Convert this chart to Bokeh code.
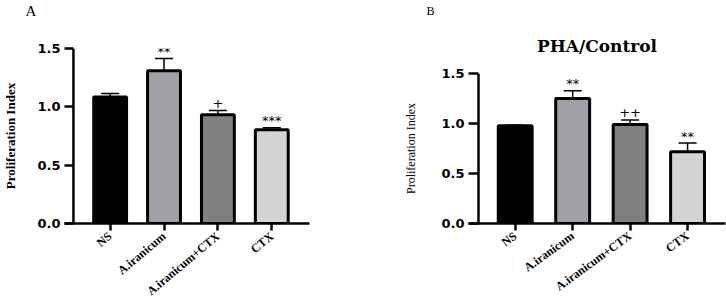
import math
from bokeh.plotting import figure
from bokeh.models import (ColumnDataSource, Range1d, FixedTicker, Span, Whisker,
                          TeeHead, Title, NumeralTickFormatter)
from bokeh.layouts import row, column
from bokeh.embed import file_html
from bokeh.resources import INLINE
from bokeh.core.properties import value

# ---------------- data ----------------
categories = ["NS", "A.iranicum", "A.iranicum+CTX", "CTX"]
bar_colors = ["#000000", "#a0a0a6", "#808080", "#d3d3d3"]

a_values = [1.085, 1.31, 0.932, 0.804]
a_errors = [0.03, 0.105, 0.037, 0.017]
a_marks = ["", "**", "+", "***"]

b_values = [0.977, 1.25, 0.99, 0.717]
b_errors = [0.006, 0.077, 0.046, 0.087]
b_marks = ["", "**", "++", "**"]

y_ticks = [0.0, 0.5, 1.0, 1.5]


def make_panel(values, errors, marks, ylabel_bold, x_start, x_end,
               yaxis_at, bar_width, borders, label_angle, label_size,
               ylabel_size, ylabel_standoff, tick_len):
    left, right, top, bottom = borders
    p = figure(width=363, height=306, output_backend="svg",
               toolbar_location=None,
               x_range=Range1d(x_start, x_end), y_range=Range1d(0, 1.5),
               min_border_left=left, min_border_right=right,
               min_border_top=top, min_border_bottom=bottom)
    p.title = None
    p.outline_line_color = None
    p.grid.visible = False
    p.background_fill_color = "white"
    p.border_fill_color = "white"

    xs = list(range(len(categories)))
    tops = [v + e for v, e in zip(values, errors)]
    src = ColumnDataSource(dict(x=xs, top=values, color=bar_colors,
                                upper=tops, mark=marks))

    # error bars (upper only)
    w = Whisker(source=src, base="x", lower="top", upper="upper",
                line_width=1.5, line_color="black",
                upper_head=TeeHead(size=18, line_width=1.5, line_color="black"),
                lower_head=None, level="underlay")
    p.add_layout(w)

    p.vbar(x="x", top="top", width=bar_width, source=src, fill_color="color",
           line_color="black", line_width=3)

    p.text(x="x", y="upper", text="mark", source=src, text_align="center",
           text_baseline="middle", y_offset=-7,
           text_font=value("DejaVu Sans"), text_font_size="13px",
           text_color="black")

    # y axis: ticks drawn inward from frame edge, axis line as a span
    ya = p.yaxis[0]
    ya.ticker = FixedTicker(ticks=y_ticks)
    ya.formatter = NumeralTickFormatter(format="0.0")
    ya.axis_line_color = None
    ya.major_tick_in = tick_len
    ya.major_tick_out = 0
    ya.major_tick_line_width = 2.5
    ya.minor_tick_line_color = None
    ya.major_label_standoff = 4
    ya.major_label_text_font = "DejaVu Sans"
    ya.major_label_text_font_style = "bold"
    ya.major_label_text_font_size = "13px"
    ya.major_label_text_color = "black"
    ya.axis_label = "Proliferation Index"
    ya.axis_label_text_font = "Liberation Serif"
    ya.axis_label_text_font_style = "bold" if ylabel_bold else "normal"
    ya.axis_label_text_font_size = ylabel_size
    ya.axis_label_text_color = "black"
    ya.axis_label_standoff = ylabel_standoff
    p.add_layout(Span(location=yaxis_at, dimension="height",
                      line_color="black", line_width=2.5))

    xa = p.xaxis[0]
    xa.ticker = FixedTicker(ticks=xs)
    xa.major_label_overrides = {i: c for i, c in enumerate(categories)}
    xa.axis_line_width = 2.5
    xa.axis_line_color = "black"
    xa.major_tick_in = 0
    xa.major_tick_out = 7
    xa.major_tick_line_width = 2.5
    xa.minor_tick_line_color = None
    xa.major_label_orientation = label_angle
    xa.major_label_standoff = 4
    xa.major_label_text_font = "Liberation Serif"
    xa.major_label_text_font_style = "bold"
    xa.major_label_text_font_size = label_size
    xa.major_label_text_color = "black"
    return p


pa = make_panel(a_values, a_errors, a_marks, True,
                -0.847, 3.70, -0.681, 0.61, (62, 54, 48, 82),
                math.radians(40), "12px", "13px", 16, 9)
# spacer between frame and panel letter
pa.add_layout(Title(text=" ", standoff=27, text_font_size="1px"), "above")
pa.add_layout(Title(text="A", align="left", offset=-39, standoff=0,
                    text_font="Liberation Serif", text_font_style="normal",
                    text_font_size="15px", text_color="black"), "above")

pb = make_panel(b_values, b_errors, b_marks, False,
                -0.813, 3.66, -0.639, 0.59, (105, 1, 73, 83),
                math.radians(36), "12px", "12px", 20, 10)
pb.add_layout(Title(text="PHA/Control", align="center", standoff=34,
                    vertical_align="middle",
                    text_font="DejaVu Serif", text_font_style="bold",
                    text_font_size="17px", text_color="black"), "above")
pb.add_layout(Title(text="B", align="left", offset=-42, standoff=0,
                    text_font="Liberation Serif", text_font_style="normal",
                    text_font_size="12px", text_color="black"), "above")

layout = row(column(pa), column(pb), spacing=0)
open("out.html", "w").write(file_html(layout, INLINE))
